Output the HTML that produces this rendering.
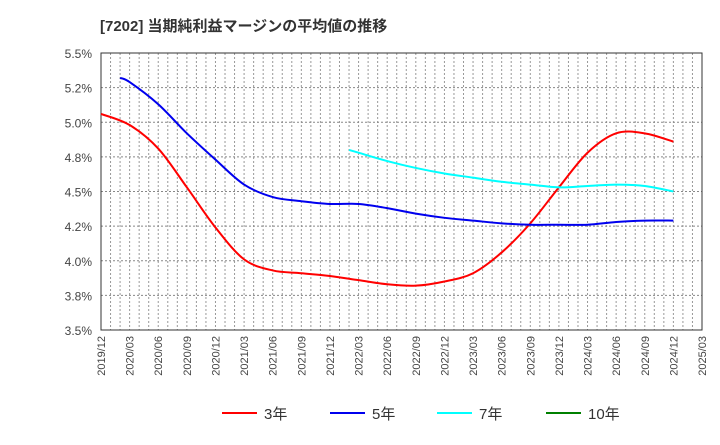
<!DOCTYPE html>
<html><head><meta charset="utf-8"><style>
body{margin:0;background:#fff;}
svg text{font-family:"Liberation Sans","Noto Sans CJK JP",sans-serif;}
</style></head><body>
<svg id="c" width="720" height="440" xmlns="http://www.w3.org/2000/svg">
<text x="100" y="31" font-size="15" font-weight="bold" fill="#333">[7202]  当期純利益マージンの平均値の推移</text>
<g id="grid"></g><g id="axes"></g><g id="series"></g><g id="legend"></g>
</svg>
<script>
const xLabels=["2019/12","2020/03","2020/06","2020/09","2020/12","2021/03","2021/06","2021/09","2021/12","2022/03","2022/06","2022/09","2022/12","2023/03","2023/06","2023/09","2023/12","2024/03","2024/06","2024/09","2024/12","2025/03"];
const yTicks=[3.5,3.75,4.0,4.25,4.5,4.75,5.0,5.25,5.5];
const yTickLabels=["3.5%","3.8%","4.0%","4.2%","4.5%","4.8%","5.0%","5.2%","5.5%"];
const s3Months=[0,3,6,9,12,15,18,21,24,27,30,33,36,39,42,45,48,51,54,57,60];
const s3=[5.06,4.98,4.81,4.53,4.24,4.01,3.93,3.91,3.89,3.86,3.83,3.82,3.85,3.91,4.06,4.27,4.53,4.78,4.92,4.92,4.86];
const s5Months=[2,3,6,9,12,15,18,21,24,27,30,33,36,39,42,45,48,51,54,57,60];
const s5=[5.32,5.29,5.13,4.92,4.73,4.55,4.46,4.43,4.41,4.41,4.38,4.34,4.31,4.29,4.27,4.26,4.26,4.26,4.28,4.29,4.29];
const s7Months=[26,27,30,33,36,39,42,45,48,51,54,57,60];
const s7=[4.80,4.78,4.72,4.67,4.63,4.60,4.57,4.55,4.53,4.54,4.55,4.54,4.50];
const s10Months=[];
const s10=[];
const L=101,R=702,T=53,B=330,NM=63;
const X=m=>L+(R-L)*m/NM;
const Y=v=>T+(5.5-v)/2*(B-T);
const NS="http://www.w3.org/2000/svg";
function mk(tag,attrs,parent){const e=document.createElementNS(NS,tag);for(const k in attrs)e.setAttribute(k,attrs[k]);parent.appendChild(e);return e;}
const grid=document.getElementById('grid'),axes=document.getElementById('axes'),ser=document.getElementById('series'),leg=document.getElementById('legend');
for(let m=1;m<NM;m++){const l=mk('line',{x1:X(m),x2:X(m),y1:T,y2:B,stroke:'#999','stroke-width':1,'stroke-dasharray':'2,2'},grid);

}
yTicks.forEach((v,i)=>{if(i>0&&i<yTicks.length-1){const l=mk('line',{x1:L,x2:R,y1:Y(v),y2:Y(v),stroke:'#888','stroke-width':1,'stroke-dasharray':'2,2'},grid);

}
const t=mk('text',{x:92,y:Y(v)+5,'font-size':12,fill:'#444','text-anchor':'end'},axes);t.textContent=yTickLabels[i];

});
xLabels.forEach((s,i)=>{const x=X(i*3);const t=mk('text',{x:x+4,y:336,'font-size':11,fill:'#444','text-anchor':'end',transform:`rotate(-90 ${x+4} 336)`},axes);t.textContent=s;

});
const box=mk('rect',{x:L,y:T,width:R-L,height:B-T,fill:'none',stroke:'#333','stroke-width':1},axes);


function path(ms,vs){const p=ms.map((m,i)=>[X(m),Y(vs[i])]);if(p.length<2)return '';let d=`M${p[0][0]},${p[0][1]}`;
for(let i=0;i<p.length-1;i++){const p0=p[i-1]||p[i],p1=p[i],p2=p[i+1],p3=p[i+2]||p2;
d+=` C${p1[0]+(p2[0]-p0[0])/6},${p1[1]+(p2[1]-p0[1])/6} ${p2[0]-(p3[0]-p1[0])/6},${p2[1]-(p3[1]-p1[1])/6} ${p2[0]},${p2[1]}`;}return d;}
const series=[[s3Months,s3,'#ff0000','3年','series-3y'],[s5Months,s5,'#0000ee','5年','series-5y'],[s7Months,s7,'#00ffff','7年','series-7y'],[s10Months,s10,'#008000','10年','series-10y']];
const lx=[222,330,437,546];
series.forEach((s,i)=>{const d=path(s[0],s[1]);if(d){const p=mk('path',{d,fill:'none',stroke:s[2],'stroke-width':2},ser);

}
const g=mk('g',{},leg);


mk('line',{x1:lx[i],x2:lx[i]+35,y1:413,y2:413,stroke:s[2],'stroke-width':2},g);
const t=mk('text',{x:lx[i]+42,y:419,'font-size':15,fill:'#333'},g);t.textContent=s[3];});
</script>
</body></html>
